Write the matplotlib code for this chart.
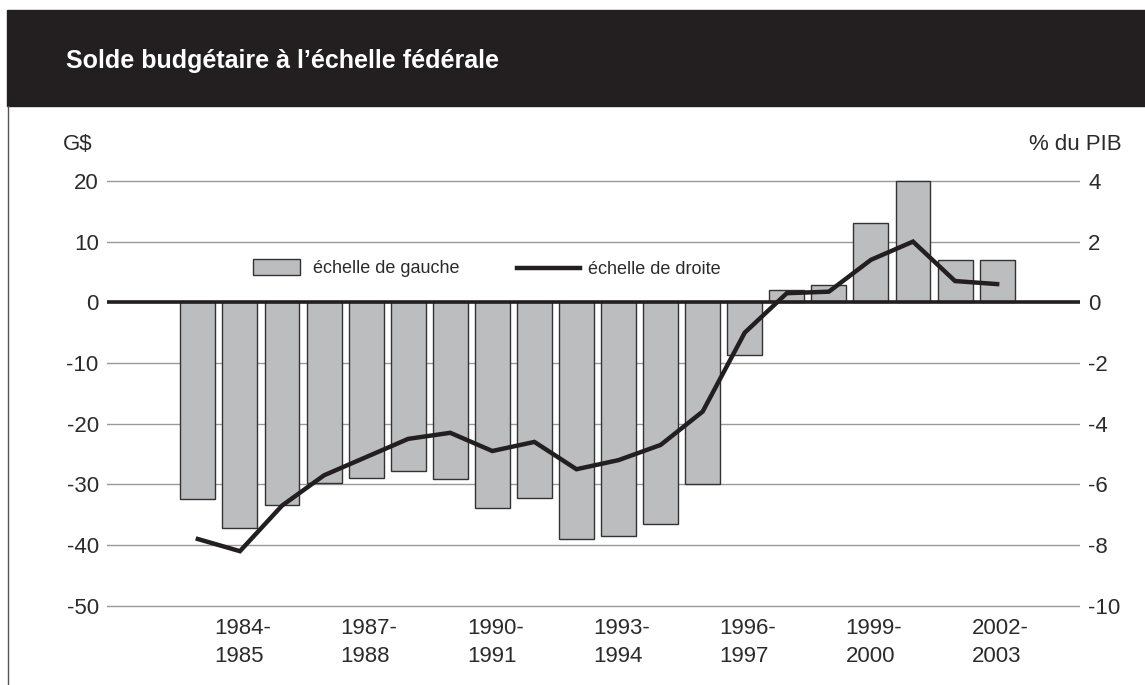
import matplotlib
matplotlib.use("Agg")
import matplotlib.pyplot as plt
from matplotlib.patches import Rectangle, Patch
from matplotlib.lines import Line2D
import numpy as np

plt.rcParams["axes.unicode_minus"] = False
plt.rcParams["font.family"] = ["Liberation Sans", "DejaVu Sans"]

# data (fiscal years 1983-84 .. 2002-03)
years = ["1983-1984", "1984-1985", "1985-1986", "1986-1987", "1987-1988",
         "1988-1989", "1989-1990", "1990-1991", "1991-1992", "1992-1993",
         "1993-1994", "1994-1995", "1995-1996", "1996-1997", "1997-1998",
         "1998-1999", "1999-2000", "2000-2001", "2001-2002", "2002-2003"]
solde_gd = [-32.4, -37.2, -33.4, -29.8, -29.0, -27.8, -29.1, -33.9, -32.3, -39.0,
            -38.5, -36.6, -30.0, -8.7, 2.1, 2.8, 13.1, 20.0, 7.0, 6.9]
solde_pib = [-7.8, -8.2, -6.7, -5.7, -5.1, -4.5, -4.3, -4.9, -4.6, -5.5,
             -5.2, -4.7, -3.6, -1.0, 0.3, 0.35, 1.4, 2.0, 0.7, 0.6]
left_ticks = [20, 10, 0, -10, -20, -30, -40, -50]
right_ticks = [4, 2, 0, -2, -4, -6, -8, -10]
label_idx = [1, 4, 7, 10, 13, 16, 19]

DARK = "#231f20"
TXT = "#2b2b2b"
W, H = 1145, 685

fig = plt.figure(figsize=(W / 100, H / 100), dpi=100)

# title band and left border
fig.patches.append(Rectangle((7 / W, 1 - 106 / H), 1 - 7 / W, 96 / H,
                             transform=fig.transFigure, color=DARK, zorder=0))
fig.lines.append(Line2D([8 / W, 8 / W], [0, 1 - 106 / H], transform=fig.transFigure,
                        color="#555555", lw=1))
fig.text(66 / W, 1 - 68 / H, "Solde budgétaire à l’échelle fédérale", color="white",
         fontsize=18, fontweight="bold", va="baseline", ha="left")

# axes placement: 0 at y=302.3 px, 6.07 px per G$
ppu, y0 = 6.07, 302.3
ymin, ymax = -52, 22
xmin, xmax = -2.16, 20.97
top = y0 - ymax * ppu
bot = y0 - ymin * ppu
ax = fig.add_axes([107 / W, 1 - bot / H, (1080 - 107) / W, (bot - top) / H])
ax2 = ax.twinx()

x = np.arange(len(years))
ax.bar(x, solde_gd, width=0.83, color="#bcbdbf", edgecolor="#333333", lw=1, zorder=2)
ax.axhline(0, color=DARK, lw=2.6, zorder=3)
ax.set_xlim(xmin, xmax)
ax.set_ylim(ymin, ymax)
ax.set_yticks(left_ticks)
ax.grid(axis="y", color="#999999", lw=1)
ax.set_axisbelow(True)

ax2.plot(x, solde_pib, color=DARK, lw=3.2, solid_joinstyle="miter", zorder=4)
ax2.set_ylim(ymin / 5, ymax / 5)
ax2.set_yticks(right_ticks)

for a in (ax, ax2):
    for s in a.spines.values():
        s.set_visible(False)

ax.tick_params(axis="y", length=0, pad=6, labelsize=16, labelcolor=TXT)
ax2.tick_params(axis="y", length=0, pad=6, labelsize=16, labelcolor=TXT)

ax.set_xticks(x[label_idx] + 0.07)
ax.set_xticklabels([years[i].replace("-", "-\n") for i in label_idx],
                   fontsize=16, color=TXT, linespacing=1.45, multialignment="left")
ax.tick_params(axis="x", length=0, pad=0)

fig.text(63 / W, 1 - 145 / H, "G$", fontsize=16, color=TXT, va="center")
fig.text(1122 / W, 1 - 145 / H, "% du PIB", fontsize=16, color=TXT, va="center",
         ha="right")

# legends
leg_font = {"size": 13}
leg1 = fig.legend(handles=[Patch(facecolor="#bcbdbf", edgecolor="#333333", lw=1)],
                  labels=["échelle de gauche"], loc="center left",
                  bbox_to_anchor=(253 / W, 1 - 268 / H), frameon=False, borderpad=0,
                  borderaxespad=0, handlelength=2.6, handleheight=1.0,
                  handletextpad=0.75, prop=leg_font, labelcolor=TXT)
leg2 = fig.legend(handles=[Line2D([], [], color=DARK, lw=3.2)],
                  labels=["échelle de droite"], loc="center left",
                  bbox_to_anchor=(517 / W, 1 - 270 / H), frameon=False, borderpad=0,
                  borderaxespad=0, handlelength=3.5, handletextpad=0.45, prop=leg_font,
                  labelcolor=TXT)

fig.savefig("out.png", dpi=100)
